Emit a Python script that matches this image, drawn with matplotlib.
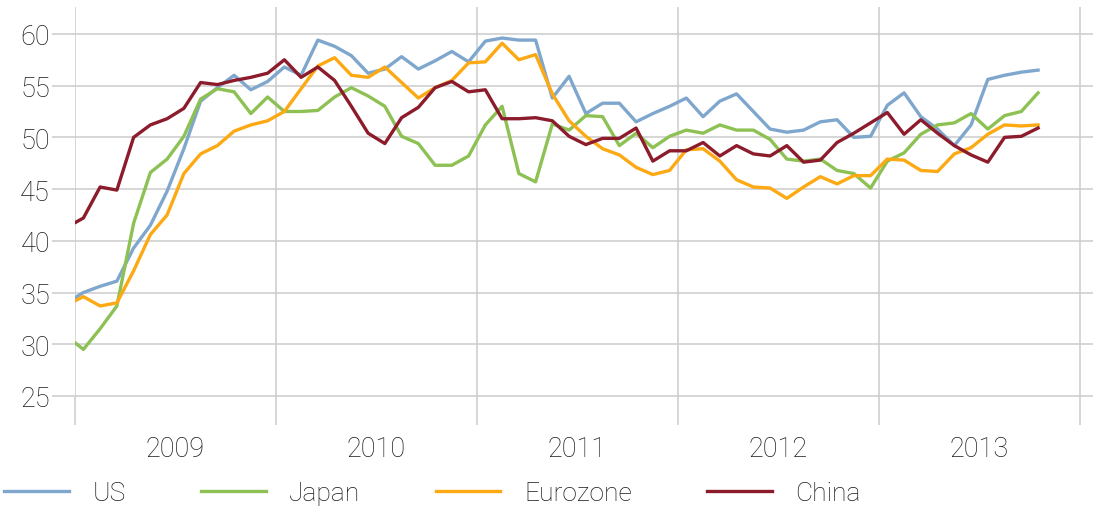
import numpy as np
import matplotlib
matplotlib.use("Agg")
import matplotlib.pyplot as plt

plt.rcParams['font.family'] = ['Roboto', 'DejaVu Sans']
plt.rcParams['font.weight'] = 'light'

# monthly readings, Dec 2008 first (it sits just left of the axis and is clipped)
months = np.arange(-1, 58) + 0.5   # month centres, 0 = start of Jan 2009

us = [34.0,
      35.0, 35.6, 36.1, 39.3, 41.5, 44.8, 48.9, 53.5, 54.8, 56.0, 54.6, 55.4,
      56.8, 56.0, 59.4, 58.8, 57.9, 56.2, 56.6, 57.8, 56.6, 57.4, 58.3, 57.3,
      59.3, 59.6, 59.4, 59.4, 53.8, 55.9, 52.3, 53.3, 53.3, 51.5, 52.3, 53.0,
      53.8, 52.0, 53.5, 54.2, 52.5, 50.8, 50.5, 50.7, 51.5, 51.7, 50.0, 50.1,
      53.1, 54.3, 52.0, 50.8, 49.2, 51.2, 55.6, 56.0, 56.3, 56.5]
japan = [30.8,
         29.5, 31.5, 33.7, 41.7, 46.6, 47.9, 50.1, 53.7, 54.7, 54.4, 52.3, 53.9,
         52.5, 52.5, 52.6, 53.9, 54.8, 54.0, 53.0, 50.1, 49.4, 47.3, 47.3, 48.2,
         51.2, 53.0, 46.5, 45.7, 51.3, 50.7, 52.1, 52.0, 49.2, 50.4, 49.0, 50.1,
         50.7, 50.4, 51.2, 50.7, 50.7, 49.8, 47.9, 47.7, 47.9, 46.8, 46.5, 45.1,
         47.7, 48.5, 50.3, 51.2, 51.4, 52.3, 50.8, 52.1, 52.5, 54.3]
eurozone = [33.8,
            34.6, 33.7, 34.0, 37.1, 40.6, 42.5, 46.5, 48.4, 49.2, 50.6, 51.2, 51.6,
            52.5, 54.7, 56.9, 57.7, 56.0, 55.8, 56.8, 55.3, 53.8, 54.8, 55.5, 57.2,
            57.3, 59.1, 57.5, 58.0, 54.2, 51.6, 50.1, 48.9, 48.3, 47.1, 46.4, 46.8,
            48.8, 48.9, 47.7, 45.9, 45.2, 45.1, 44.1, 45.2, 46.2, 45.5, 46.3, 46.3,
            47.9, 47.8, 46.8, 46.7, 48.4, 49.0, 50.3, 51.2, 51.1, 51.2]
china = [41.3,
         42.2, 45.2, 44.9, 50.0, 51.2, 51.8, 52.8, 55.3, 55.1, 55.5, 55.8, 56.2,
         57.5, 55.8, 56.8, 55.5, 53.0, 50.4, 49.4, 51.9, 52.9, 54.8, 55.4, 54.4,
         54.6, 51.8, 51.8, 51.9, 51.6, 50.1, 49.3, 49.9, 49.9, 50.9, 47.7, 48.7,
         48.7, 49.5, 48.2, 49.2, 48.4, 48.2, 49.2, 47.6, 47.8, 49.5, 50.4, 51.4,
         52.4, 50.3, 51.7, 50.4, 49.2, 48.3, 47.6, 50.0, 50.1, 50.9]

years = ['2009', '2010', '2011', '2012', '2013']
yticks = [25, 30, 35, 40, 45, 50, 55, 60]

fig = plt.figure(figsize=(10.93, 5.10), dpi=100)
ax = fig.add_axes([75 / 1093, 112 / 510, 1 - 75 / 1093, 390 / 510])

ax.plot(months, us, color='#7fa7cd', lw=2.4, label='US')
ax.plot(months, japan, color='#8dc153', lw=2.4, label='Japan')
ax.plot(months, eurozone, color='#fca914', lw=2.4, label='Eurozone')
ax.plot(months, china, color='#8c1c2c', lw=2.4, label='China')

ax.set_xlim(0, 60.78)
ax.set_ylim(24.9, 62.6)

grid_col = '#cccccc'
txt_col = '#1a1a1a'
ax.set_xticks([0, 12, 24, 36, 48, 60])
ax.set_xticklabels([])
ax.set_xticks([6, 18, 30, 42, 54], minor=True)
ax.set_xticklabels(years, minor=True)
ax.tick_params(axis='x', which='major', direction='out', length=20, width=1.1, color=grid_col)
ax.tick_params(axis='x', which='minor', length=0, pad=27.5, labelsize=19.5, labelcolor=txt_col)

ax.set_yticks(yticks)
ax.tick_params(axis='y', direction='out', length=16.5, width=1.1, color=grid_col,
               pad=1.5, labelsize=19.5, labelcolor=txt_col)

ax.grid(True, which='major', color=grid_col, lw=1.1)
ax.set_axisbelow(True)
for s in ax.spines.values():
    s.set_visible(False)

fig.legend(loc='center left', bbox_to_anchor=(4 / 1093, 16 / 510), ncol=4, frameon=False,
           fontsize=19, handlelength=2.45, handletextpad=0.9, columnspacing=2.85,
           borderaxespad=0, borderpad=0, labelcolor=txt_col)

fig.savefig('out.png', dpi=100)
